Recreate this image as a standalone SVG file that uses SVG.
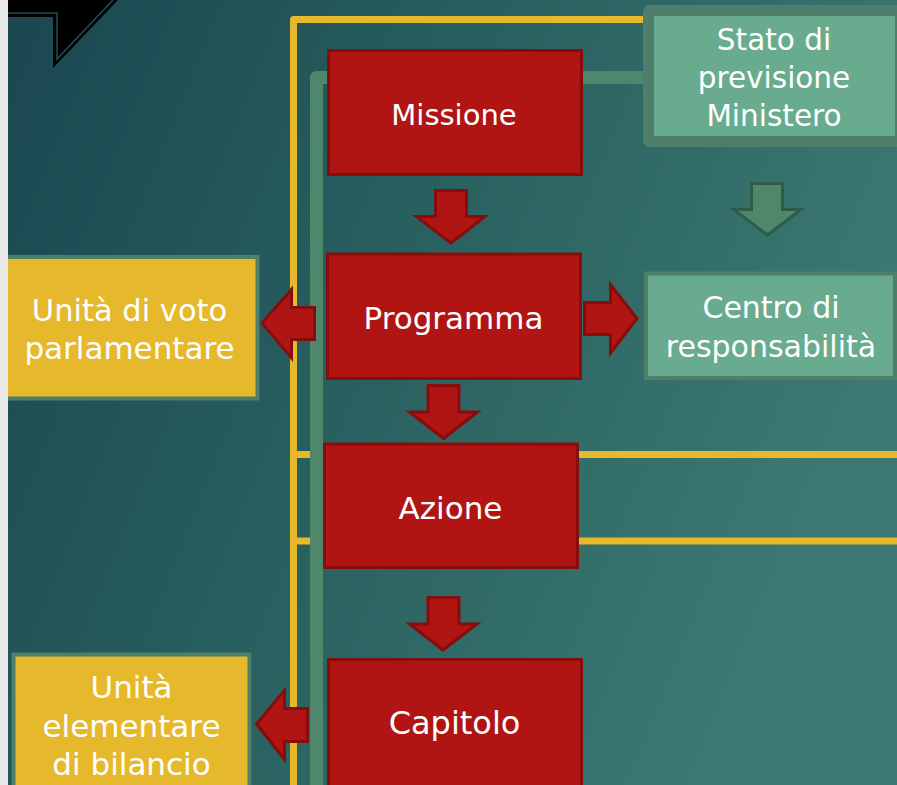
<svg xmlns="http://www.w3.org/2000/svg" width="897" height="785" viewBox="0 0 897 785">
  <defs>
    <linearGradient id="bg" x1="0" y1="0" x2="1" y2="0.35">
      <stop offset="0" stop-color="#1a4650"/>
      <stop offset="0.5" stop-color="#28605f"/>
      <stop offset="1" stop-color="#3c7871"/>
    </linearGradient>
    <style>
      .red { fill: #b01513; stroke: #870c0c; stroke-width: 3; stroke-linejoin: miter; }
      .redtxt { font-family: "DejaVu Sans", "Liberation Sans", sans-serif; fill: #ffffff; text-anchor: middle; }
      .yel { fill: #e6b82b; stroke: #4e7f69; stroke-width: 4; }
      .grn { fill: #69ab8e; stroke: #4e7f69; stroke-width: 4; }
      .garrow { fill: #4e876c; stroke: #2f5c49; stroke-width: 3; }
      .ylin { fill: none; stroke: #e6b82b; stroke-width: 7; stroke-linejoin: round; }
      .glin { fill: none; stroke: #4e876c; stroke-width: 13; stroke-linejoin: round; }
    </style>
  </defs>

  <rect x="0" y="0" width="897" height="785" fill="url(#bg)"/>

  <!-- decorative corner -->
  <polygon points="8,0 118,0 53,68 53,17 8,17" fill="#000000"/>
  <polyline points="8,13 57,13 57,59 113,0" fill="none" stroke="#1f4f57" stroke-width="1.5"/>

  <g id="connectors">
    <path class="ylin" d="M293.5,785 V19.5 H650"/>
    <path class="ylin" d="M293.5,454.5 H897"/>
    <path class="ylin" d="M293.5,541 H897"/>
    <path class="glin" d="M316.5,785 V77.5 H650"/>
  </g>

  <g id="stato">
    <rect x="643" y="5" width="270" height="142" rx="7" fill="#4f7f6a"/>
    <rect x="654" y="16" width="241" height="120" fill="#69ab8e"/>
    <text class="redtxt" font-size="29.5" x="774" y="50">Stato di</text>
    <text class="redtxt" font-size="29.5" x="774" y="88">previsione</text>
    <text class="redtxt" font-size="29.5" x="774" y="126">Ministero</text>
  </g>

  <g id="centro">
    <rect class="grn" x="646" y="273.5" width="249" height="104.5"/>
    <text class="redtxt" font-size="30" x="771" y="318">Centro di</text>
    <text class="redtxt" font-size="30" x="771" y="356.5">responsabilità</text>
  </g>

  <g id="unita-voto">
    <rect class="yel" x="4" y="257" width="253.5" height="141.5"/>
    <text class="redtxt" font-size="30.5" x="129.5" y="321">Unità di voto</text>
    <text class="redtxt" font-size="31" x="129.5" y="358.5">parlamentare</text>
  </g>

  <g id="unita-elementare">
    <rect class="yel" x="13.5" y="654.5" width="236" height="150"/>
    <text class="redtxt" font-size="31" x="131.5" y="698">Unità</text>
    <text class="redtxt" font-size="31" x="131.5" y="736.5">elementare</text>
    <text class="redtxt" font-size="31" x="131.5" y="775">di bilancio</text>
  </g>

  <g id="missione">
    <rect class="red" x="328.5" y="50.5" width="253" height="124"/>
    <text class="redtxt" font-size="29" x="454" y="125">Missione</text>
  </g>

  <g id="programma">
    <rect class="red" x="327.5" y="254" width="253" height="124.5"/>
    <text class="redtxt" font-size="31" x="453.5" y="329">Programma</text>
  </g>

  <g id="azione">
    <rect class="red" x="324.5" y="444" width="253" height="123.5"/>
    <text class="redtxt" font-size="31" x="450.5" y="519">Azione</text>
  </g>

  <g id="capitolo">
    <rect class="red" x="328.5" y="659.5" width="253" height="140"/>
    <text class="redtxt" font-size="32" x="454.5" y="734">Capitolo</text>
  </g>

  <g id="arrows">
    <polygon class="red" points="435.5,190.5 466.5,190.5 466.5,216.5 485,216.5 451,243 416.5,216.5 435.5,216.5"/>
    <polygon class="red" points="428,385.5 459,385.5 459,412 477.5,412 443.5,438.5 409.5,412 428,412"/>
    <polygon class="red" points="428,597.5 459,597.5 459,624 477,624 443,650 409.5,624 428,624"/>
    <polygon class="red" points="314.5,307.5 291.5,307.5 291.5,289.5 262,323 291.5,358 291.5,339.5 314.5,339.5"/>
    <polygon class="red" points="584.5,302.5 610.5,302.5 610.5,284.5 637,318.5 610.5,353 610.5,334.5 584.5,334.5"/>
    <polygon class="red" points="307.5,708.5 284.5,708.5 284.5,690.5 256.5,724 284.5,759.5 284.5,741.5 307.5,741.5"/>
    <polygon class="garrow" points="751.5,183.5 782.5,183.5 782.5,209.5 801,209.5 767.5,235 733.5,209.5 751.5,209.5"/>
  </g>

  <rect x="0" y="0" width="8" height="785" fill="#e9e9e9"/>
</svg>
